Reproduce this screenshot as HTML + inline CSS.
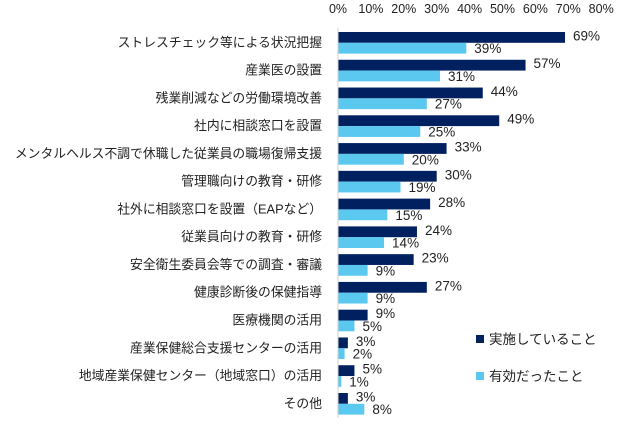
<!DOCTYPE html>
<html><head><meta charset="utf-8"><style>
body{margin:0;background:#fff;width:637px;height:424px;overflow:hidden}
svg text{font-family:"Liberation Sans","Noto Sans CJK JP",sans-serif;fill:#222}
</style></head><body>
<svg id="chart" width="637" height="424" xmlns="http://www.w3.org/2000/svg"></svg>
<script>
const categories=["ストレスチェック等による状況把握","産業医の設置","残業削減などの労働環境改善","社内に相談窓口を設置","メンタルヘルス不調で休職した従業員の職場復帰支援","管理職向けの教育・研修","社外に相談窓口を設置（EAPなど）","従業員向けの教育・研修","安全衛生委員会等での調査・審議","健康診断後の保健指導","医療機関の活用","産業保健総合支援センターの活用","地域産業保健センター（地域窓口）の活用","その他"];
const implemented=[69,57,44,49,33,30,28,24,23,27,9,3,5,3];
const effective=[39,31,27,25,20,19,15,14,9,9,5,2,1,8];
const ticks=[0,10,20,30,40,50,60,70,80];
const svg=document.getElementById('chart');
const NS="http://www.w3.org/2000/svg";
const x0=338,scale=3.29,top0=32,pitch=27.77,bh=10.8;
const xs=v=>x0+v*scale;
function mk(t,a,txt){const e=document.createElementNS(NS,t);for(const k in a)e.setAttribute(k,a[k]);if(txt!=null)e.textContent=txt;svg.appendChild(e);return e;}
ticks.forEach(t=>{const e=mk('text',{x:xs(t),y:13,'font-size':12.5,'text-anchor':'middle'},t+'%');

});
categories.forEach((c,i)=>{
 const y=top0+i*pitch;
 const l=mk('text',{x:322,y:y+bh+4,'font-size':12.8,'text-anchor':'end'},c);
 
 
 const b1=mk('rect',{x:x0,y:y,width:implemented[i]*scale,height:bh,fill:'#002060'});
 
 
 const b2=mk('rect',{x:x0,y:y+bh,width:effective[i]*scale,height:bh,fill:'#5bc8f0'});
 
 
 const v1=mk('text',{x:xs(implemented[i])+8,y:y+bh/2+3,'font-size':13.5},implemented[i]+'%');
 
 
 const v2=mk('text',{x:xs(effective[i])+8,y:y+bh*1.5+5,'font-size':13.5},effective[i]+'%');
 
 
});
const ax=mk('line',{x1:x0,y1:28,x2:x0,y2:418,stroke:'#d0d0d0','stroke-width':1});


const legend=[["実施していること","#002060",335],["有効だったこと","#5bc8f0",372]];
legend.forEach(l=>{
 const r=mk('rect',{x:476,y:l[2],width:8,height:8,fill:l[1]});
 
 
 const t=mk('text',{x:489,y:l[2]+9,'font-size':13.5},l[0]);
 
 
});
</script>
</body></html>
